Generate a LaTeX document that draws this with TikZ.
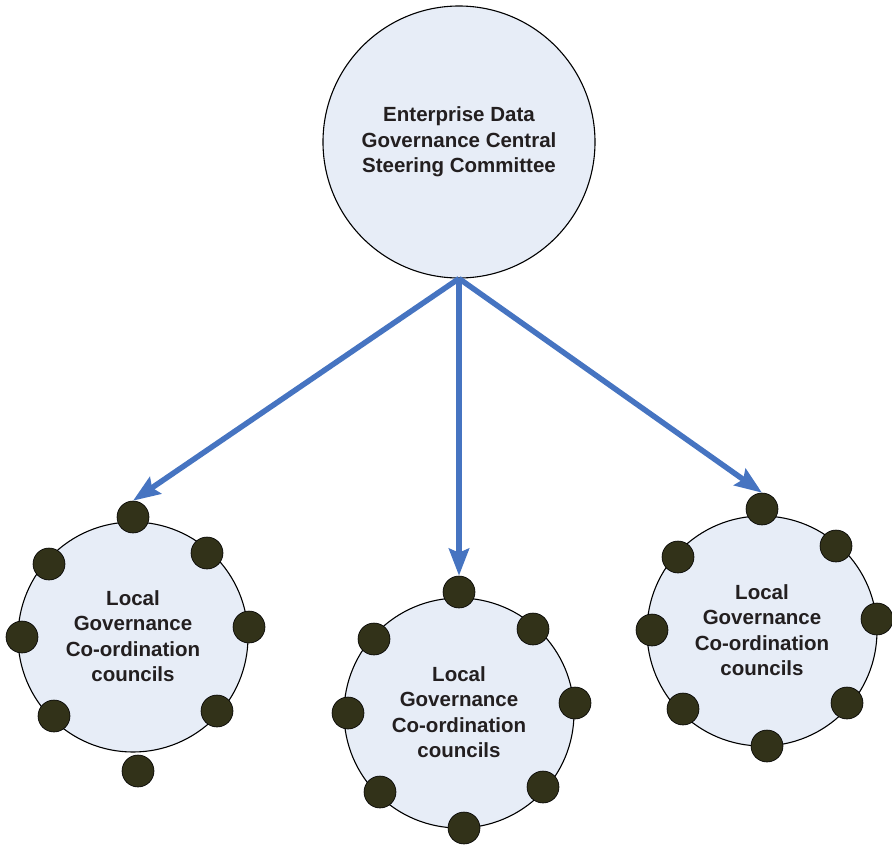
\documentclass[tikz,border=0pt]{standalone}
\usepackage{fontspec}
\setmainfont{Liberation Sans}
\usetikzlibrary{arrows.meta}
\definecolor{cfill}{HTML}{E7EDF7}
\definecolor{dfill}{HTML}{323219}
\definecolor{arr}{HTML}{4674C1}
\definecolor{txt}{HTML}{231F20}
\begin{document}
\begin{tikzpicture}[x=1pt,y=-1pt,
  big/.style={circle,draw=black,line width=1.1pt,fill=cfill,inner sep=0pt,minimum size=#1},
  dotnode/.style={circle,draw=black,line width=0.6pt,fill=dfill,inner sep=0pt,minimum size=32pt},
  lbl/.style={align=center,font=\fontsize{20.5}{25.5}\selectfont\bfseries,text=txt},
  flow/.style={draw=arr,line width=5.5pt,-{Stealth[length=27pt,width=20pt,inset=4pt]}}]
\useasboundingbox (0,0) rectangle (892,844);

% top circle
\node[big=272pt] (top) at (459,142) {};
\node[lbl] (toplbl) at (459,142) {Enterprise Data\\Governance Central\\Steering Committee};

% local circles
\node[big=230pt] (c1) at (133,637) {};
\node[big=230pt] (c2) at (459,713) {};
\node[big=230pt] (c3) at (762,631) {};

\node[lbl] (t1) at (133,636) {Local\\Governance\\Co-ordination\\councils};
\node[lbl] (t2) at (459,712) {Local\\Governance\\Co-ordination\\councils};
\node[lbl] (t3) at (762,630) {Local\\Governance\\Co-ordination\\councils};

% dots, circle 1
\node[dotnode] (a1) at (133,517) {};
\node[dotnode] (a2) at (207,553) {};
\node[dotnode] (a3) at (249,627) {};
\node[dotnode] (a4) at (217,711) {};
\node[dotnode] (a5) at (138,771) {};
\node[dotnode] (a6) at (54,716) {};
\node[dotnode] (a7) at (22,637) {};
\node[dotnode] (a8) at (49,564) {};

% dots, circle 2
\node[dotnode] (b1) at (459,592) {};
\node[dotnode] (b2) at (533,629) {};
\node[dotnode] (b3) at (575,703) {};
\node[dotnode] (b4) at (543,787) {};
\node[dotnode] (b5) at (464,828) {};
\node[dotnode] (b6) at (380,792) {};
\node[dotnode] (b7) at (348,713) {};
\node[dotnode] (b8) at (374,639) {};

% dots, circle 3
\node[dotnode] (e1) at (762,509) {};
\node[dotnode] (e2) at (836,546) {};
\node[dotnode] (e3) at (877,619) {};
\node[dotnode] (e4) at (847,703) {};
\node[dotnode] (e5) at (767,746) {};
\node[dotnode] (e6) at (683,709) {};
\node[dotnode] (e7) at (652,630) {};
\node[dotnode] (e8) at (678,557) {};

% connectors
\draw[flow] (top.south) -- (a1.north);
\draw[flow] (top.south) -- (b1.north);
\draw[flow] (top.south) -- (e1.north);
\end{tikzpicture}
\end{document}
